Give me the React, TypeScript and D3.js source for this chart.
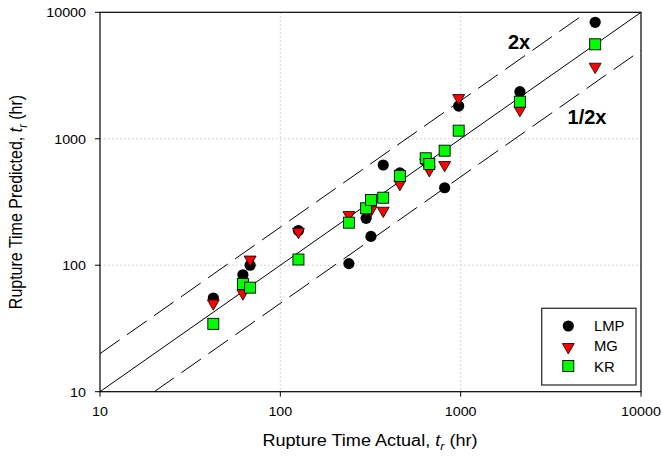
import React from "react";
import * as d3 from "d3";

// ---- data (hours) ----
const lmpActual = [42.5, 62, 68, 126, 240, 299, 318, 372, 460, 640, 670, 815, 975, 2130, 5570];
const lmpPred = [55, 84, 100, 188, 103, 235, 169, 620, 537, 665, 650, 410, 1815, 2356, 8335];

const mgActual = [42.5, 62, 68, 126, 240, 299, 318, 372, 460, 640, 670, 815, 975, 2130, 5570];
const mgPred = [50, 60, 111, 184, 250, 275, 273, 270, 440, 650, 566, 621, 2100, 1690, 3715];

const krActual = [42.5, 62, 68, 126, 240, 299, 318, 372, 460, 640, 670, 815, 975, 2130, 5570];
const krPred = [34.4, 71, 66.5, 111, 217, 282, 328, 342, 508, 701, 632, 805, 1159, 1963, 5585];

const tickValues = [10, 100, 1000, 10000];
const gridValues = [100, 1000];

const oneToOne = [[10, 10], [10000, 10000]];
const twoX = [[10, 20], [5000, 10000]];
const halfX = [[20, 10], [10000, 5000]];

const legendLabels = ["LMP", "MG", "KR"];

const W = 662;
const H = 459;
const L = 100;
const R = 641;
const T = 12.3;
const B = 391.7;

const FONT = "Arial, 'Liberation Sans', Helvetica, sans-serif";

export default function App() {
  const x = d3.scaleLog().domain([10, 10000]).range([L, R]);
  const y = d3.scaleLog().domain([10, 10000]).range([B, T]);
  const line = d3
    .line<number[]>()
    .x((d) => x(d[0]))
    .y((d) => y(d[1]));

  const tri = d3.symbol().type(d3.symbolTriangle).size(62)();

  const circle = (cx: number, cy: number, k: string) => (
    <circle key={k} cx={cx} cy={cy} r={5.6} fill="#000" />
  );
  const triangle = (cx: number, cy: number, k: string) => (
    <path
      key={k}
      d={tri || ""}
      transform={`translate(${cx},${cy}) rotate(180)`}
      fill="#ff0000"
      stroke="#000"
      strokeWidth={0.8}
    />
  );
  const square = (cx: number, cy: number, k: string) => (
    <rect
      key={k}
      x={cx - 5.5}
      y={cy - 5.5}
      width={11}
      height={11}
      fill="#00ff00"
      stroke="#000"
      strokeWidth={0.9}
    />
  );

  return (
    <svg
      width={W}
      height={H}
      style={{ position: "absolute", left: 0, top: 0, background: "#fff" }}
      fontFamily={FONT}
    >
      <defs>
        <clipPath id="plotClip">
          <rect x={L} y={T} width={R - L} height={B - T} />
        </clipPath>
      </defs>
      <rect x={0} y={0} width={W} height={H} fill="#fff" />

      {/* gridlines */}
      {gridValues.map((v) => (
        <line
          key={"gx" + v}
          x1={x(v)}
          x2={x(v)}
          y1={T}
          y2={B}
          stroke="#c8c8c8"
          strokeWidth={1}
          strokeDasharray="1.5,2.5"
        />
      ))}
      {gridValues.map((v) => (
        <line
          key={"gy" + v}
          x1={L}
          x2={R}
          y1={y(v)}
          y2={y(v)}
          stroke="#c8c8c8"
          strokeWidth={1}
          strokeDasharray="1.5,2.5"
        />
      ))}

      {/* reference lines */}
      <g clipPath="url(#plotClip)" fill="none" stroke="#000">
        <path d={line(oneToOne) || ""} strokeWidth={1} />
        <path d={line(twoX) || ""} strokeWidth={1} strokeDasharray="24,9" />
        <path d={line(halfX) || ""} strokeWidth={1} strokeDasharray="24,9" />
      </g>

      {/* markers */}
      <g>{lmpActual.map((a, i) => circle(x(a), y(lmpPred[i]), "c" + i))}</g>
      <g>{mgActual.map((a, i) => triangle(x(a), y(mgPred[i]), "t" + i))}</g>
      <g>{krActual.map((a, i) => square(x(a), y(krPred[i]), "s" + i))}</g>

      {/* frame */}
      <rect x={L} y={T} width={R - L} height={B - T} fill="none" stroke="#000" strokeWidth={1.2} />

      {/* x ticks */}
      {tickValues.map((v) => (
        <g key={"xt" + v}>
          <line x1={x(v)} x2={x(v)} y1={B} y2={B + 5} stroke="#000" strokeWidth={1} />
          <text
            transform={`translate(${x(v)},${B + 24}) scale(1.06,1)`}
            textAnchor="middle"
            fontSize={13.5}
            fill="#000"
          >
            {v}
          </text>
        </g>
      ))}
      {/* y ticks */}
      {tickValues.map((v) => (
        <g key={"yt" + v}>
          <line x1={L - 5} x2={L} y1={y(v)} y2={y(v)} stroke="#000" strokeWidth={1} />
          <text
            transform={`translate(${L - 14},${y(v) + 5}) scale(1.06,1)`}
            textAnchor="end"
            fontSize={13.5}
            fill="#000"
          >
            {v}
          </text>
        </g>
      ))}

      {/* annotations */}
      <text x={519} y={49} textAnchor="middle" fontSize={20} fontWeight="bold" fill="#000">
        2x
      </text>
      <text x={587} y={124} textAnchor="middle" fontSize={20} fontWeight="bold" fill="#000">
        1/2x
      </text>

      {/* axis titles */}
      <text
        transform="translate(370,446) scale(1.13,1)"
        textAnchor="middle"
        fontSize={16}
        fill="#000"
      >
        Rupture Time Actual,{" "}
        <tspan fontStyle="italic">t</tspan>
        <tspan fontStyle="italic" fontSize={11} dy={4}>r</tspan>
        <tspan dy={-4}> (hr)</tspan>
      </text>
      <text
        transform="translate(22,202) scale(1.15,1) rotate(-90)"
        textAnchor="middle"
        fontSize={16}
        fill="#000"
      >
        Rupture Time Predicted,{" "}
        <tspan fontStyle="italic">t</tspan>
        <tspan fontStyle="italic" fontSize={11} dy={4}>r</tspan>
        <tspan dy={-4}> (hr)</tspan>
      </text>

      {/* legend */}
      <rect x={541.7} y={308.3} width={94.3} height={76.7} fill="#fff" stroke="#333" strokeWidth={1.3} />
      {circle(568.3, 326, "lc")}
      {triangle(568.3, 347, "lt")}
      {square(568.3, 366, "ls")}
      {legendLabels.map((lab, i) => (
        <text key={lab} transform={`translate(594,${331 + i * 20.3}) scale(1.06,1)`} fontSize={14} fill="#000">
          {lab}
        </text>
      ))}
    </svg>
  );
}
